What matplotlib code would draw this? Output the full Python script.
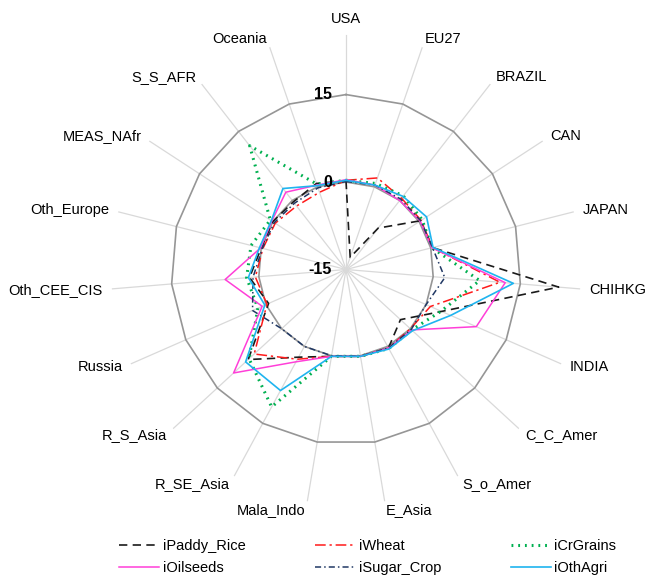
import numpy as np
import matplotlib
matplotlib.use("Agg")
import matplotlib.pyplot as plt

plt.rcParams['font.family'] = ['Liberation Sans', 'DejaVu Sans']

regions = ['USA', 'EU27', 'BRAZIL', 'CAN', 'JAPAN', 'CHIHKG', 'INDIA', 'C_C_Amer',
           'S_o_Amer', 'E_Asia', 'Mala_Indo', 'R_SE_Asia', 'R_S_Asia', 'Russia',
           'Oth_CEE_CIS', 'Oth_Europe', 'MEAS_NAfr', 'S_S_AFR', 'Oceania']

paddy_rice = [0.2, -12.8, -6.0, 0.3, 0.3, 21.6, 2.9, -2.3, 0.3, 0.1,
              0.1, 2.1, 7.8, -0.5, 1.6, 0.0, 0.0, -0.3, 0.6]
wheat = [0.3, 1.6, 0.5, 0.4, 0.3, 11.5, 0.8, 0.0, 0.3, 0.1,
         0.1, 2.5, 6.4, -0.2, 0.6, -0.3, -0.5, -1.2, -1.0]
cr_grains = [0.3, 0.6, 1.0, 0.6, 0.2, 8.0, 2.8, 0.3, 0.4, 0.1,
             0.1, 11.8, 7.6, 1.5, 2.1, 1.8, 0.5, 11.9, 0.5]
oilseeds = [0.4, 0.3, 0.0, 0.2, 0.2, 12.4, 9.4, 0.3, 0.3, 0.1,
            0.1, 3.0, 11.2, 0.7, 5.8, 0.1, 0.2, 1.8, 0.3]
sugar_crop = [0.1, 0.3, 0.3, 0.3, 0.3, 2.0, 0.0, 0.2, 0.3, 0.1,
              0.0, 0.0, 0.0, 2.5, 1.0, -0.2, -0.3, -0.6, -0.2]
oth_agri = [0.3, 0.3, 0.9, 1.5, 0.4, 13.8, 4.6, 0.5, 0.5, 0.1,
            0.1, 8.6, 8.4, 0.2, 1.8, 0.3, 0.3, 2.6, 0.2]

series = [
    ('iPaddy_Rice', paddy_rice, '#1a1a1a', (0, (5, 3.2)), 1.2),
    ('iWheat', wheat, '#ff1a1a', (0, (7, 2.5, 1.5, 2.5)), 1.1),
    ('iCrGrains', cr_grains, '#00b050', (0, (0.6, 1.6)), 2.2),
    ('iOilseeds', oilseeds, '#ff3fd8', '-', 1.1),
    ('iSugar_Crop', sugar_crop, '#203864', (0, (4, 2, 1, 2)), 1.1),
    ('iOthAgri', oth_agri, '#1fb4ef', '-', 1.2),
]

rmin, rmax = -15, 25.3
n = len(regions)
angles = np.linspace(0, 2 * np.pi, n, endpoint=False)
closed = np.append(angles, angles[0])

fig = plt.figure(figsize=(6.48, 5.79), dpi=100)
ax = fig.add_axes([0.1713, 0.1287, 0.7253, 0.8117], projection='polar')
ax.set_theta_zero_location('N')
ax.set_theta_direction(-1)
ax.set_ylim(rmin, rmax)
ax.set_axis_off()

# spokes
for a in angles:
    ax.plot([a, a], [rmin, rmax], color='#d9d9d9', lw=0.9, zorder=1)

# polygon rings at 0 and 15
for ring in [0, 15]:
    ax.plot(closed, [ring] * (n + 1), color='#969696', lw=1.2, zorder=2)

# ring value labels, left of the top spoke
for ring, txt in [(-15, '-15'), (0, '0'), (15, '15')]:
    ax.annotate(txt, xy=(0, ring), xytext=(-10, 0), textcoords='offset points',
                ha='right', va='center', fontsize=11.5, fontweight='bold',
                color='black', zorder=5)

# category labels
r_lab = -15 + 244 / (175 / 30)
for a, name in zip(angles, regions):
    sx = np.sin(a)
    if abs(sx) < 0.01:
        ha = 'center'
    elif sx > 0:
        ha = 'left'
    else:
        ha = 'right'
    va = 'bottom' if np.cos(a) > 0.99 else 'center'
    ax.text(a, r_lab, name, ha=ha, va=va, fontsize=10.5, color='black')

handles = {}
for label, vals, color, ls, lw in series:
    v = np.append(vals, vals[0])
    line, = ax.plot(closed, v, color=color, linestyle=ls, lw=lw, zorder=3,
                    label=label)
    handles[label] = line

order = ['iPaddy_Rice', 'iOilseeds', 'iWheat', 'iSugar_Crop', 'iCrGrains', 'iOthAgri']
fig.legend([handles[k] for k in order], order, ncol=3, loc='center',
           bbox_to_anchor=(0.5673, 0.038), frameon=False, fontsize=10.5,
           handlelength=2.75, handletextpad=0.25, columnspacing=4.77,
           labelspacing=0.5)

fig.savefig('out.png', dpi=100)
